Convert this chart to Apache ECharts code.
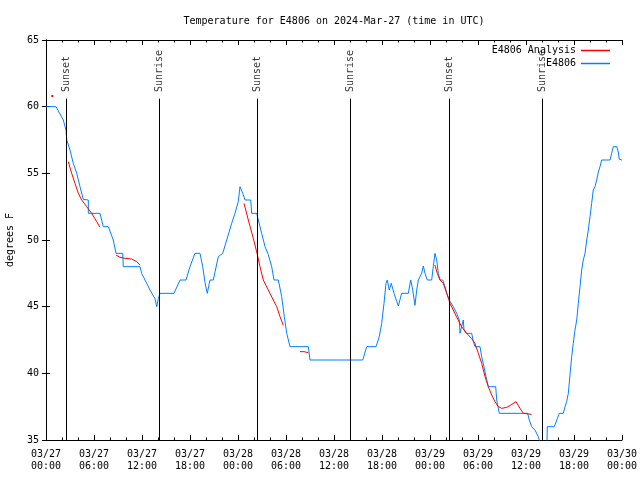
<!DOCTYPE html>
<html>
<head>
<meta charset="utf-8">
<script src="https://cdn.jsdelivr.net/npm/echarts@6/dist/echarts.min.js"></script>
<style>html,body{margin:0;padding:0;background:#fff}#c{width:640px;height:480px}</style>
</head>
<body>
<div id="c"></div>
<script>
// hours since 03/27 00:00 UTC
const xTickLabels = ['03/27\n00:00','03/27\n06:00','03/27\n12:00','03/27\n18:00','03/28\n00:00','03/28\n06:00','03/28\n12:00','03/28\n18:00','03/29\n00:00','03/29\n06:00','03/29\n12:00','03/29\n18:00','03/30\n00:00'];
const yTicks = [35, 40, 45, 50, 55, 60, 65];

const observed = [[0,60],[1.25,60],[1.75,59.45],[2.16,59],[2.5,58.25],[2.59,57.5],[3,56.75],[3.41,55.75],[3.84,55],[4.25,54],[4.66,53.05],[5.29,53],[5.29,52],[6.75,52],[7.16,51],[7.79,51],[8.41,50],[8.75,49],[9.59,49],[9.66,48],[11.75,48],[11.96,47.5],[12.38,47],[13,46.25],[13.62,45.6],[13.84,45],[14.04,45.6],[14.25,46],[16,46],[16.75,47],[17.5,47],[18,48],[18.62,49],[19.25,49],[19.59,48],[19.88,46.8],[20.16,46],[20.5,47],[20.91,47],[21.54,48.75],[22.09,49],[22.59,50],[23.21,51.25],[23.62,52],[24.04,52.9],[24.25,54],[24.59,53.5],[24.88,53],[25.59,53],[25.71,52],[26.34,52],[26.54,51.5],[26.96,50.5],[27.38,49.5],[27.79,48.9],[28.21,48],[28.5,47],[29.04,47],[29.46,45.75],[29.79,44.25],[30.09,43],[30.5,42],[32.79,42],[33,41],[39.59,41],[40.09,42],[41.25,42],[41.66,42.75],[41.96,43.75],[42.25,45.25],[42.5,46.75],[42.66,47],[42.91,46.25],[43.16,46.75],[43.5,46],[43.84,45.4],[44.04,45.05],[44.46,46],[45.29,46],[45.59,47],[45.84,46.25],[46.12,45.1],[46.34,46.25],[46.54,47],[46.96,47.5],[47.16,48.05],[47.38,47.5],[47.66,47],[48.21,47],[48.41,48],[48.62,49],[48.84,48.5],[49.04,47.5],[49.25,47],[49.59,47],[49.88,46.5],[50.09,46],[50.5,45.4],[50.91,45],[51.34,44.5],[51.66,44],[51.75,43],[51.96,43],[52.16,44],[52.25,43.25],[52.5,43],[53.21,43],[53.41,42.4],[53.62,42],[54.25,42],[54.46,41.25],[54.75,40.5],[55,39.75],[55.29,39],[56.21,39],[56.34,38],[56.66,37],[60.21,37],[60.41,36.5],[60.71,36],[61.12,35.75],[61.54,35.25],[61.9,34.5],[62.6,34],[62.66,36],[63.54,36],[63.91,36.6],[64.16,37],[64.66,37],[64.88,37.5],[65.09,37.9],[65.29,38.5],[65.5,39.9],[65.71,41.25],[65.91,42.25],[66.12,43.25],[66.34,44],[66.54,45.25],[66.75,46.5],[66.96,47.75],[67.16,48.5],[67.38,49],[67.59,50],[67.79,50.75],[68,51.75],[68.21,52.75],[68.41,53.75],[68.62,54],[68.84,54.5],[69.04,55.1],[69.25,55.5],[69.46,56],[70.5,56],[70.71,56.5],[70.91,57],[71.34,57],[71.54,56.6],[71.66,56.05],[72,56]];

const analysisSegments = [
  [[0.79,60.8]],
  [[2.79,55.875],[3.21,55],[3.62,54.25],[4.04,53.5],[4.46,53],[5.09,52.5],[5.71,52],[6.34,51.375],[6.75,50.95]],
  [[8.75,48.875],[9.25,48.7],[9.88,48.625],[10.7,48.575],[11.34,48.375],[11.75,48.125]],
  [[24.75,52.75],[25.29,51.5],[25.91,50.125],[26.34,49.1],[26.75,48],[27.16,47],[27.79,46.25],[28.41,45.5],[28.84,45],[29.25,44.25],[29.66,43.6]],
  [[31.75,41.625],[32.25,41.625],[32.79,41.55]],
  [[48.62,48.125],[48.91,47.5],[49.25,47],[49.66,46.75],[50.09,46],[50.5,45.25],[50.91,44.75],[51.34,44.2],[51.96,43.5],[52.59,43],[53.21,42.6],[53.62,42.25],[54.04,41.5],[54.46,40.75],[54.88,39.75],[55.29,39],[55.71,38.375],[56.12,37.875],[56.54,37.5],[56.96,37.375],[57.59,37.45],[58.12,37.625],[58.75,37.875],[59.25,37.375],[59.66,37],[60.71,36.925]]
];

const sunNames = ['Sunset','Sunrise','Sunset','Sunrise','Sunset','Sunrise'];
const sunTimes = [2.55, 14.15, 26.4, 38.05, 50.4, 62.05];
const sunLineTop = 60.6;
const sunLabelBase = 61.1;

const FONT = 'DejaVu Sans Mono';
const txt = {fontFamily: FONT, fontSize: 10, color: '#000'};

const series = [];
analysisSegments.forEach(seg => {
  series.push({
    name: 'E4806 Analysis', type: 'line', data: seg,
    symbol: seg.length === 1 ? 'rect' : 'none', symbolSize: 2, showSymbol: seg.length === 1,
    lineStyle: {color: '#ff0000', width: 1}, itemStyle: {color: '#ff0000'},
    animation: false, z: 3
  });
});
series.push({
  name: 'E4806', type: 'line', data: observed, symbol: 'none', showSymbol: false,
  lineStyle: {color: '#0080ff', width: 1}, itemStyle: {color: '#0080ff'}, animation: false, z: 2
});
series.push({
  name: 'sun', type: 'scatter', symbolSize: 0, silent: true, animation: false,
  data: sunTimes.map((t, i) => [t, sunLabelBase, sunNames[i]]),
  label: {show: true, position: 'inside', rotate: 90, align: 'left', verticalAlign: 'middle',
          formatter: p => p.data[2], ...txt},
  markLine: {
    silent: true, symbol: ['none', 'none'], animation: false,
    label: {show: false},
    lineStyle: {color: '#000', width: 1, type: 'solid'},
    data: sunTimes.map(t => [{coord: [t, 35]}, {coord: [t, sunLineTop]}])
  },
  z: 4
});

const legendCommon = {right: 30, padding: 0, align: 'right', icon: 'rect', itemWidth: 29, itemHeight: 1.5,
  itemGap: 0, textStyle: txt, selectedMode: false};

const chart = echarts.init(document.getElementById('c'), null, {renderer: 'canvas'});
chart.setOption({
  animation: false,
  backgroundColor: '#fff',
  title: {text: 'Temperature for E4806 on 2024-Mar-27 (time in UTC)', left: 334, top: 16, padding: 0, textAlign: 'center',
          textStyle: {...txt, fontWeight: 'normal'}},
  legend: [
    {...legendCommon, data: ['E4806 Analysis'], top: 45.5},
    {...legendCommon, data: ['E4806'], top: 58.5}
  ],
  grid: {left: 46, right: 18, top: 40, bottom: 40, containLabel: false, outerBoundsMode: 'none'},
  xAxis: [
    {type: 'value', min: 0, max: 72, interval: 6, position: 'bottom',
     axisLine: {show: true, lineStyle: {color: '#000', width: 1}},
     axisTick: {show: true, inside: true, length: 5, lineStyle: {color: '#000'}},
     minorTick: {show: true, splitNumber: 3, length: 2.5, lineStyle: {color: '#000'}},
     splitLine: {show: false},
     axisLabel: {show: true, margin: 8, lineHeight: 12, ...txt, formatter: v => xTickLabels[Math.round(v / 6)]}},
    {type: 'value', min: 0, max: 72, interval: 6, position: 'top',
     axisLine: {show: true, lineStyle: {color: '#000', width: 1}},
     axisTick: {show: true, inside: true, length: 5, lineStyle: {color: '#000'}},
     minorTick: {show: true, splitNumber: 3, length: 2.5, lineStyle: {color: '#000'}},
     splitLine: {show: false}, axisLabel: {show: false}}
  ],
  yAxis: [
    {type: 'value', min: 35, max: 65, interval: 5, position: 'left',
     name: 'degrees F', nameLocation: 'middle', nameGap: 31, nameTextStyle: txt,
     axisLine: {show: true, lineStyle: {color: '#000', width: 1}},
     axisTick: {show: true, inside: true, length: 4, lineStyle: {color: '#000'}},
     splitLine: {show: false},
     axisLabel: {show: true, margin: 7, ...txt, formatter: v => yTicks.includes(v) ? String(v) : ''}},
    {type: 'value', min: 35, max: 65, interval: 5, position: 'right',
     axisLine: {show: true, lineStyle: {color: '#000', width: 1}},
     axisTick: {show: true, inside: true, length: 4, lineStyle: {color: '#000'}},
     splitLine: {show: false}, axisLabel: {show: false}}
  ],
  series: series
});
</script>
</body>
</html>
